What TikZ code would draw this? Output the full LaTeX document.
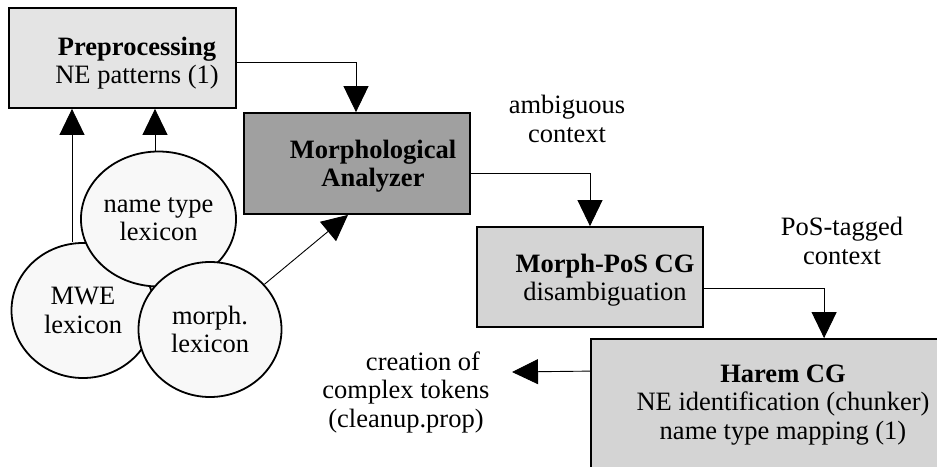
\documentclass[tikz,border=0pt]{standalone}
\usepackage{fontspec}
\setmainfont{Liberation Serif}
\usetikzlibrary{arrows.meta,shapes.geometric}
\definecolor{preF}{HTML}{E4E4E4}
\definecolor{morF}{HTML}{A0A0A0}
\definecolor{posF}{HTML}{D4D4D4}
\definecolor{lexF}{HTML}{F8F8F8}
\newcommand{\fsz}{\fontsize{26.5}{28.5}\selectfont}
\begin{document}
\begin{tikzpicture}[x=1pt,y=-1pt,
  box/.style={draw, line width=1.8pt, rectangle, inner sep=0pt},
  lex/.style={draw, line width=1.8pt, ellipse, fill=lexF, inner sep=0pt,
    minimum width=143pt, minimum height=135pt, font=\fsz, align=center},
  txt/.style={inner sep=0pt, align=center, font=\fsz},
  arr/.style={line width=0.9pt, -{Triangle[width=25pt,length=26pt]}}]
\useasboundingbox (0,0) rectangle (937,466);
% boxes
\node[box, fill=preF, minimum width=227pt, minimum height=100pt] (pre) at (122.5,58) {};
\node[txt] (pretext) at (137,63) {\textbf{Preprocessing}\\NE patterns (1)};
\node[box, fill=morF, minimum width=226pt, minimum height=101pt] (morph) at (357,163.5) {};
\node[txt] (morphtext) at (373,166) {\textbf{Morphological}\\\textbf{Analyzer}};
\node[box, fill=posF, minimum width=226pt, minimum height=100pt] (mpos) at (590,277) {};
\node[txt] (mpostext) at (605,280) {\textbf{Morph-PoS CG}\\disambiguation};
\begin{scope}
\clip (0,0) rectangle (937,466);
\node[box, fill=posF, minimum width=354pt, minimum height=137pt] (harem) at (768,407.5) {};
\end{scope}
\node[txt] (haremtext) at (783,405) {\textbf{Harem CG}\\NE identification (chunker)\\name type mapping (1)};
% lexica
\node[lex] (mwe) at (83,310.5) {MWE\\lexicon};
\node[lex] (ntype) at (158.5,219) {name type\\lexicon};
\node[lex] (mlex) at (210,329.5) {morph.\\lexicon};
% labels
\node[txt] (amb) at (567,119) {ambiguous\\context};
\node[txt] (postag) at (842,241) {PoS-tagged\\context};
\node[txt] (creation) at (406,392) {\hspace*{34pt}creation of\\complex tokens\\(cleanup.prop)};
\coordinate (ctip) at (512,372);
% connectors
\draw[arr] ([yshift=-4pt]pre.east) -| ([xshift=-1pt]morph.north);
\draw[arr] ([yshift=-9.5pt]morph.east) -| (mpos.north);
\draw[arr] ([yshift=-11pt]mpos.east) -| ([xshift=234pt]harem.north west);
\draw[arr] ([yshift=-33pt]harem.north west) -- (ctip);
\draw[arr] ([xshift=-11pt]mwe.north) -- ([xshift=-11pt]mwe.north |- pre.south);
\draw[arr] ([xshift=-3.5pt]ntype.north) -- ([xshift=-3.5pt]ntype.north |- pre.south);
\draw[arr] (mlex) -- ([xshift=-9pt]morph.south);
\end{tikzpicture}
\end{document}
